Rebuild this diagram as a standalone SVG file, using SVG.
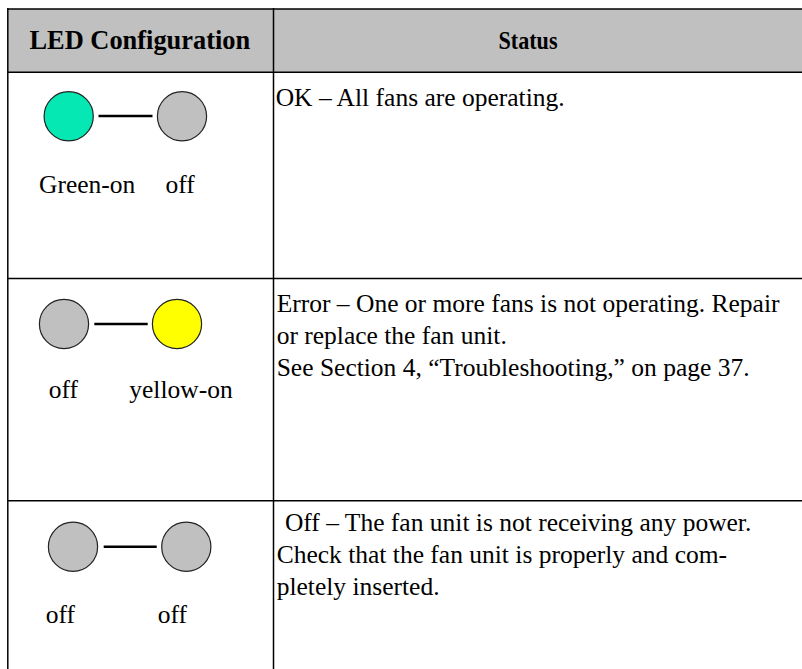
<svg xmlns="http://www.w3.org/2000/svg" width="802" height="669" viewBox="0 0 802 669">
<style>
text{font-family:"Liberation Serif","Times New Roman",serif;fill:#000;font-size:25.5px}
.h{font-weight:bold;font-size:26.4px}
.led{stroke:#222;stroke-width:1.2}
.g{fill:#c0c0c0}
.on{fill:#05e8b4}
.y{fill:#ffff00}
.link{stroke:#000;stroke-width:2.4}
.grid{stroke:#000;stroke-width:1.5;fill:none}
</style>
<g id="table">
<rect x="8" y="9" width="794" height="63" fill="#c0c0c0"/>
<line class="grid" x1="8" y1="9" x2="802" y2="9" stroke-width="3"/>
<line class="grid" x1="8" y1="72.3" x2="802" y2="72.3" stroke-width="2.5"/>
<line class="grid" x1="7.8" y1="8" x2="7.8" y2="669"/>
<line class="grid" x1="273.5" y1="8" x2="273.5" y2="669"/>
<line class="grid" x1="8" y1="278.5" x2="802" y2="278.5"/>
<line class="grid" x1="8" y1="500.7" x2="802" y2="500.7"/>
<text class="h" x="29.5" y="48.5">LED Configuration</text>
<text class="h" x="498.5" y="48.5" style="font-size:25px" textLength="59" lengthAdjust="spacingAndGlyphs">Status</text>
</g>
<g id="connectors">
<line class="link" x1="98.5" y1="116" x2="152.5" y2="116"/>
<line class="link" x1="94.3" y1="324" x2="147.7" y2="324"/>
<line class="link" x1="103.7" y1="546.7" x2="156.7" y2="546.7"/>
</g>
<g id="row1">
<circle class="led on" cx="68.7" cy="116.3" r="24.6"/>
<circle class="led g" cx="182" cy="116.3" r="24.6"/>
<text x="39" y="193">Green-on</text>
<text x="165.5" y="193">off</text>
<text x="275.7" y="106">OK – All fans are operating.</text>
</g>
<g id="row2">
<circle class="led g" cx="64" cy="324" r="24.6"/>
<circle class="led y" cx="177" cy="324" r="24.6"/>
<text x="48.7" y="398.3">off</text>
<text x="129.3" y="398.3">yellow-on</text>
<text x="276.7" y="311.7">Error – One or more fans is not operating. Repair</text>
<text x="276.7" y="343.7">or replace the fan unit.</text>
<text x="276.7" y="375.5">See Section 4, “Troubleshooting,” on page 37.</text>
</g>
<g id="row3">
<circle class="led g" cx="73" cy="546.7" r="24.6"/>
<circle class="led g" cx="186.3" cy="546.7" r="24.6"/>
<text x="45.7" y="622.7">off</text>
<text x="157.7" y="622.7">off</text>
<text x="278.5" y="531" xml:space="preserve"> Off – The fan unit is not receiving any power.</text>
<text x="276.7" y="563.3">Check that the fan unit is properly and com-</text>
<text x="276.7" y="595">pletely inserted.</text>
</g>
</svg>
